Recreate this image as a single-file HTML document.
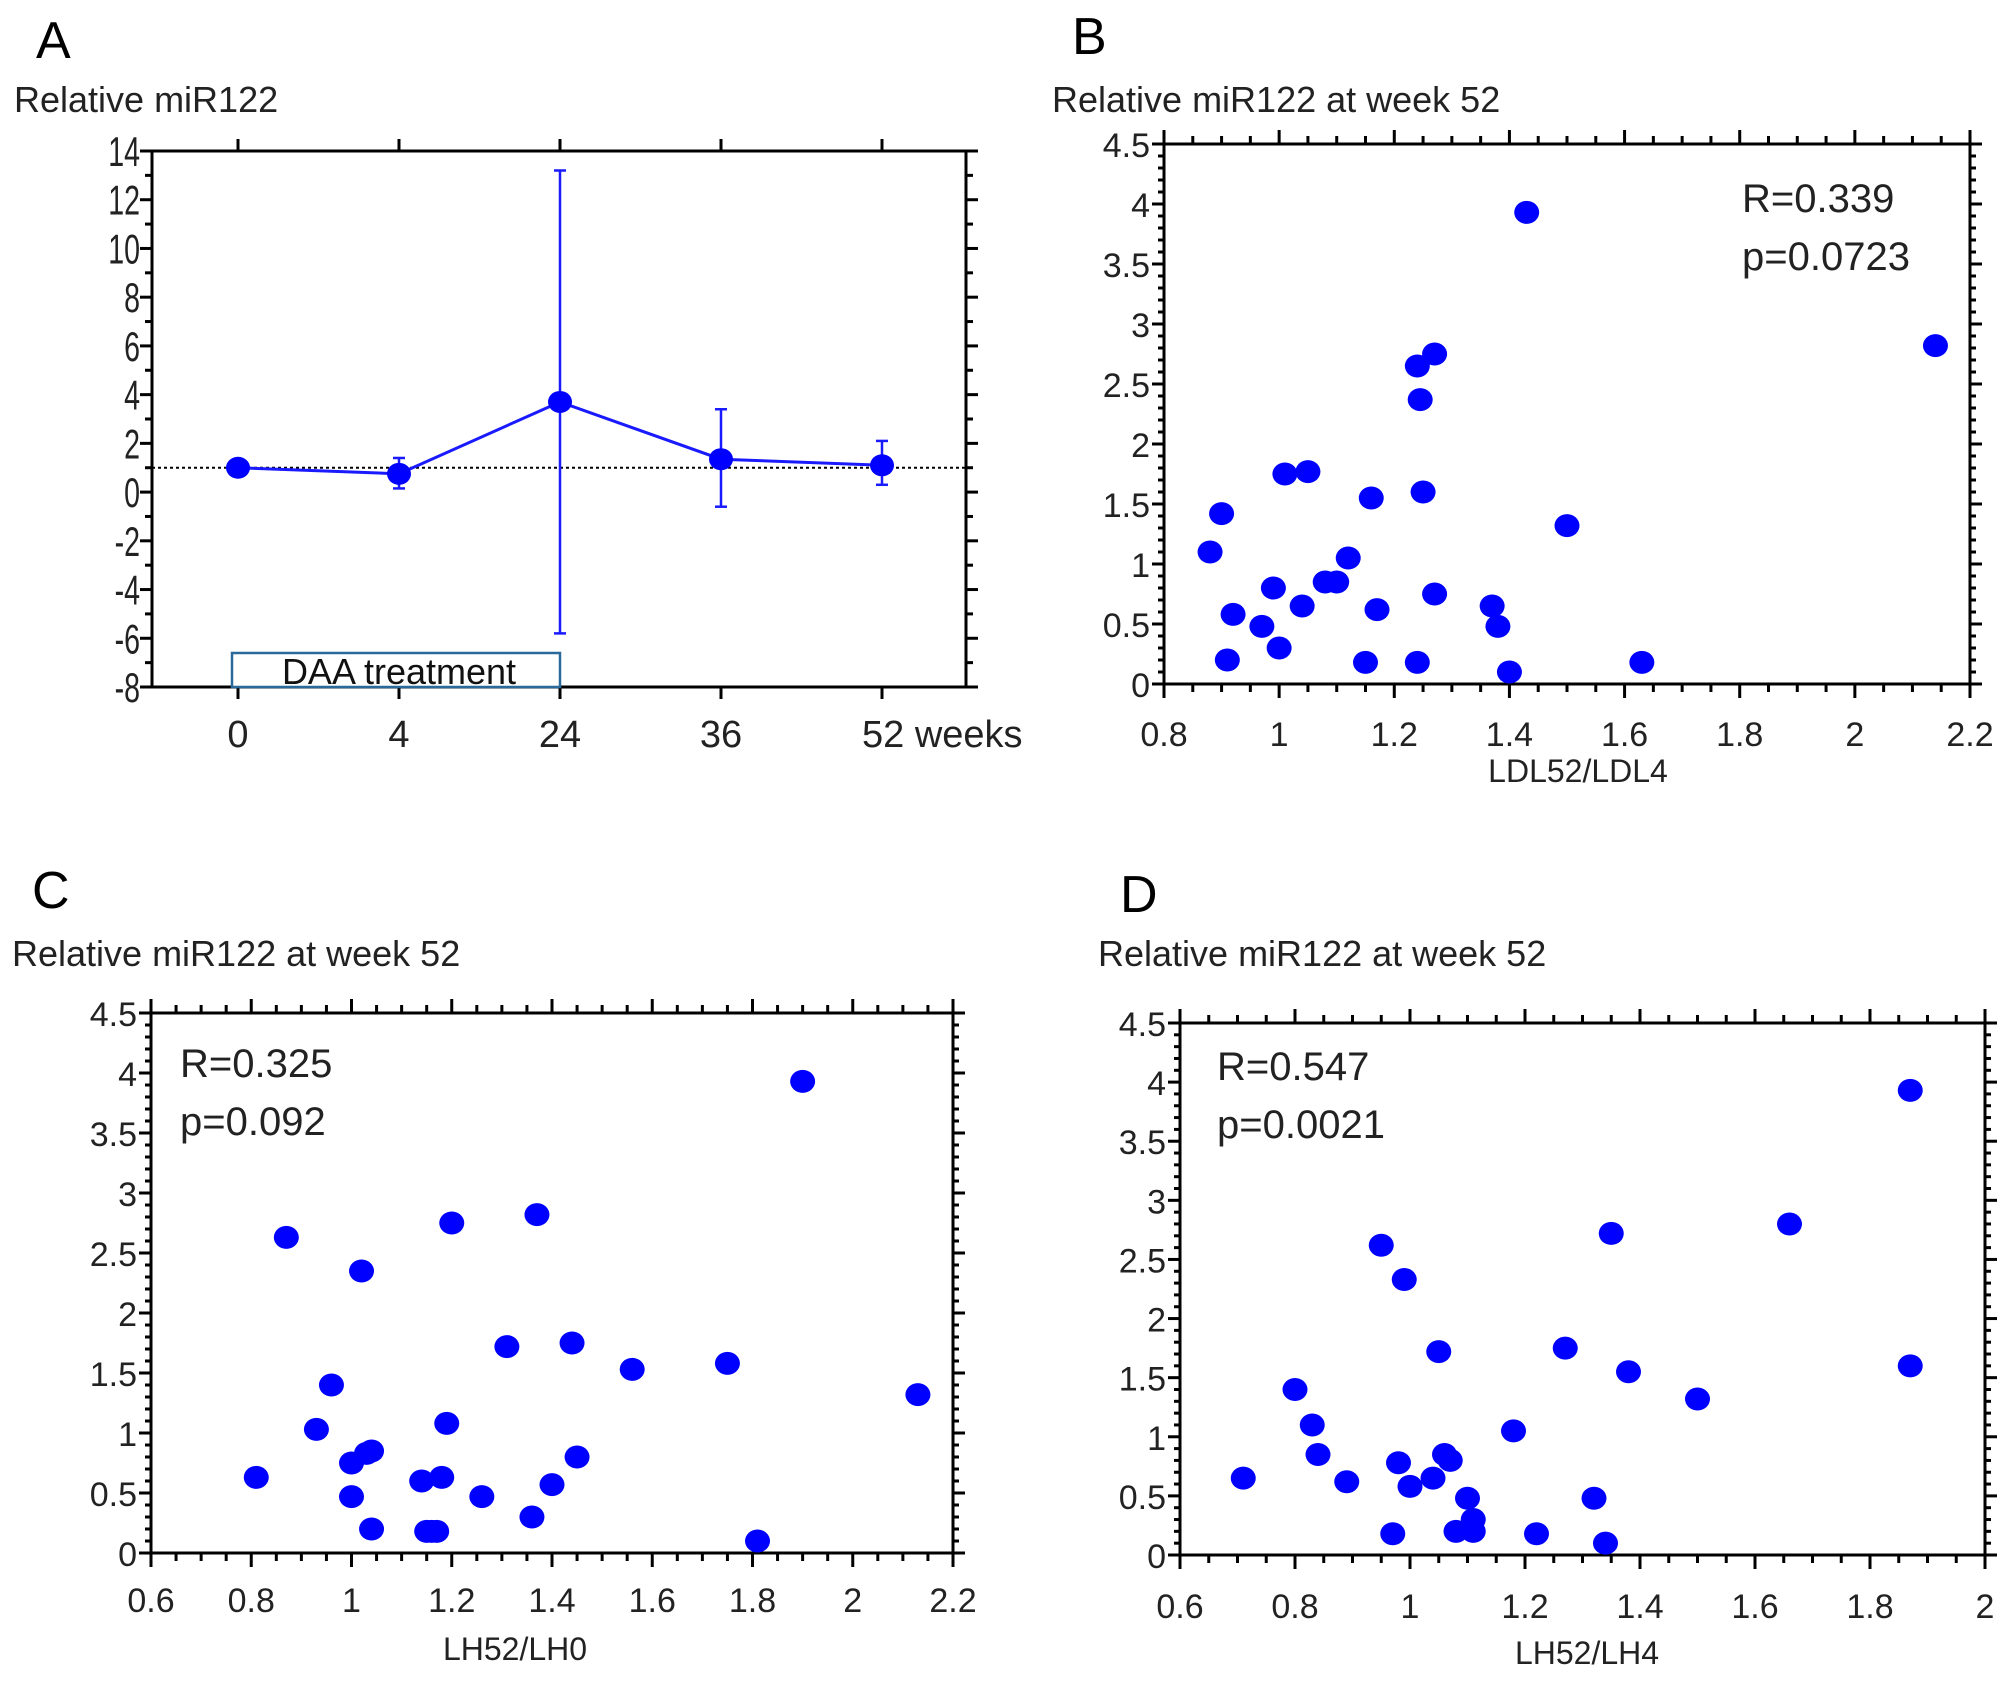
<!DOCTYPE html>
<html><head><meta charset="utf-8">
<style>
html,body{margin:0;padding:0;background:#fff;}
svg{display:block;font-family:"Liberation Sans",sans-serif;}
</style></head>
<body>
<svg id="fig" width="2008" height="1681" viewBox="0 0 2008 1681" xmlns="http://www.w3.org/2000/svg">
<rect width="2008" height="1681" fill="#fff"/>
<g>
<text x="36" y="58" font-size="52">A</text>
<text x="14" y="112" font-size="36" fill="#222">Relative miR122</text>
</g>
<g>
<text x="1072" y="54" font-size="52">B</text>
<text x="1052" y="112" font-size="36" fill="#222">Relative miR122 at week 52</text>
</g>
<g>
<text x="32" y="908" font-size="52">C</text>
<text x="12" y="966" font-size="36" fill="#222">Relative miR122 at week 52</text>
</g>
<g>
<text x="1120" y="912" font-size="52">D</text>
<text x="1098" y="966" font-size="36" fill="#222">Relative miR122 at week 52</text>
</g>
</svg>
<script>
// Panel A data
const aCategories = ["0","4","24","36","52 weeks"];
const aMeans = [1.0, 0.75, 3.7, 1.35, 1.1];
const aLower = [1.0, 0.15, -5.8, -0.6, 0.3];
const aUpper = [1.0, 1.4, 13.2, 3.4, 2.1];
const aYTicks = [14,12,10,8,6,4,2,0,-2,-4,-6,-8];
// Panel B data
const bX = [0.88,0.9,0.91,0.92,0.97,0.99,1.0,1.01,1.04,1.05,1.08,1.1,1.12,1.15,1.16,1.17,1.24,1.24,1.245,1.25,1.27,1.27,1.37,1.38,1.4,1.43,1.5,1.63,2.14];
const bY = [1.1,1.42,0.2,0.58,0.48,0.8,0.3,1.75,0.65,1.77,0.85,0.85,1.05,0.18,1.55,0.62,2.65,0.18,2.37,1.6,2.75,0.75,0.65,0.48,0.1,3.93,1.32,0.18,2.82];
const bXTicks = ["0.8","1","1.2","1.4","1.6","1.8","2","2.2"];
// Panel C data
const cX = [0.81,0.87,0.93,0.96,1.0,1.0,1.02,1.03,1.04,1.04,1.14,1.15,1.16,1.17,1.18,1.19,1.2,1.26,1.31,1.36,1.37,1.4,1.44,1.45,1.56,1.75,1.81,1.9,2.13];
const cY = [0.63,2.63,1.03,1.4,0.75,0.47,2.35,0.83,0.85,0.2,0.6,0.18,0.18,0.18,0.63,1.08,2.75,0.47,1.72,0.3,2.82,0.57,1.75,0.8,1.53,1.58,0.1,3.93,1.32];
const cXTicks = ["0.6","0.8","1","1.2","1.4","1.6","1.8","2","2.2"];
// Panel D data
const dX = [0.71,0.8,0.83,0.84,0.89,0.95,0.97,0.98,0.99,1.0,1.04,1.05,1.06,1.07,1.08,1.1,1.11,1.11,1.22,1.18,1.27,1.32,1.34,1.35,1.38,1.5,1.66,1.87,1.87];
const dY = [0.65,1.4,1.1,0.85,0.62,2.62,0.18,0.78,2.33,0.58,0.65,1.72,0.85,0.8,0.2,0.48,0.3,0.2,0.18,1.05,1.75,0.48,0.1,2.72,1.55,1.32,2.8,3.93,1.6];
const dXTicks = ["0.6","0.8","1","1.2","1.4","1.6","1.8","2"];
const scYTicks = ["0","0.5","1","1.5","2","2.5","3","3.5","4","4.5"];

const NS = "http://www.w3.org/2000/svg";
const svg = document.getElementById('fig');
function mk(tag, attrs, parent){
  const e = document.createElementNS(NS, tag);
  for (const k in attrs) e.setAttribute(k, attrs[k]);
  (parent||svg).appendChild(e);
  return e;
}
function ln(g,x1,y1,x2,y2,w,c,dash){
  const e = mk('line',{x1:x1,y1:y1,x2:x2,y2:y2,stroke:c||'#000','stroke-width':w||3},g);
  if(dash) e.setAttribute('stroke-dasharray',dash);
  return e;
}

// ---------- Panel A ----------
(function(){
  const L=152,R=966,T=151,B=687, yMin=-8,yMax=14;
  const xPos=[238,397,559,722,882];
  const ys = v => B - (v-yMin)/(yMax-yMin)*(B-T);
  const xs = i => xPos[0] + (xPos[4]-xPos[0]) * [0,1,2,3,4][i]/4;
  const g = mk('g',{});
  
  
  const box = mk('rect',{x:L,y:T,width:R-L,height:B-T,fill:'none',stroke:'#000','stroke-width':3},g);
  
  
  for(let v=yMin; v<=yMax; v+=1){
    const maj = (v%2===0);
    const len = maj?12:7;
    ln(g,L-len,ys(v),L,ys(v),3);
    ln(g,R,ys(v),R+len,ys(v),3);
  }
  const ax = L-12;
  aYTicks.forEach(v=>{
    const t = mk('text',{x:ax,y:ys(v)+15,'font-size':42,'text-anchor':'end',fill:'#222',transform:`translate(${ax},0) scale(0.68,1) translate(${-ax},0)`},g);
    t.textContent = v;
    
    
  });
  aCategories.forEach((c,i)=>{
    ln(g,xs(i),B,xs(i),B+12,3);
    ln(g,xs(i),T-12,xs(i),T,3);
    const t = mk('text',{x:i===4?xs(i)-20:xs(i),y:747,'font-size':38,'text-anchor':i===4?'start':'middle',fill:'#222'},g);
    t.textContent = c;
    
    
  });
  const ref = ln(g,L,ys(1),R,ys(1),2,'#000','3,3');
  
  
  const daa = mk('rect',{x:xs(0)-6,y:653,width:xs(2)-xs(0)+6,height:B-653,fill:'#fff',stroke:'#2a6a9a','stroke-width':2.5},g);
  
  
  const dt = mk('text',{x:(xs(0)+xs(2))/2,y:684,'font-size':36,'text-anchor':'middle',fill:'#111'},g);
  dt.textContent='DAA treatment';
  
  
  aMeans.forEach((m,i)=>{
    const x = xs(i);
    const eb = ln(g,x,ys(aLower[i]),x,ys(aUpper[i]),2.5,'#1a1aff');
    
    
    if(aUpper[i]!==aLower[i]){
      ln(g,x-6,ys(aLower[i]),x+6,ys(aLower[i]),2.5,'#1a1aff');
      ln(g,x-6,ys(aUpper[i]),x+6,ys(aUpper[i]),2.5,'#1a1aff');
    }
  });
  const pts = aMeans.map((m,i)=>xs(i)+','+ys(m)).join(' ');
  const pl = mk('polyline',{points:pts,fill:'none',stroke:'#1a1aff','stroke-width':3},g);
  
  
  aMeans.forEach((m,i)=>{
    const c = mk('ellipse',{cx:xs(i),cy:ys(m),rx:12,ry:11,fill:'#0000ff'},g);
    
    
  });
})();

// ---------- Scatter panels ----------
function scatter(id,L,R,T,B,xMin,xMax,xTicks,xs,ysArr,xlab,xlabX,xlabY,tickY,stats,statX,statY){
  const g = mk('g',{});
  
  
  const sx = v => L + (v-xMin)/(xMax-xMin)*(R-L);
  const sy = v => B - v/4.5*(B-T);
  const box = mk('rect',{x:L,y:T,width:R-L,height:B-T,fill:'none',stroke:'#000','stroke-width':3},g);
  
  
  const nx = Math.round((xMax-xMin)/0.05);
  for(let i=0;i<=nx;i++){
    const v = xMin + i*0.05;
    const maj = (i%4===0);
    const len = maj?14:8;
    ln(g,sx(v),B,sx(v),B+len,3);
    ln(g,sx(v),T-len,sx(v),T,3);
  }
  for(let i=0;i<=45;i++){
    const v=i*0.1; const maj=(i%5===0); const len=maj?12:6;
    ln(g,L-len,sy(v),L,sy(v),3);
    ln(g,R,sy(v),R+len,sy(v),3);
  }
  scYTicks.forEach(s=>{
    const t = mk('text',{x:L-14,y:sy(parseFloat(s))+13,'font-size':34,'text-anchor':'end',fill:'#222'},g);
    t.textContent=s;
    
    
  });
  xTicks.forEach(s=>{
    const t = mk('text',{x:sx(parseFloat(s)),y:tickY,'font-size':34,'text-anchor':'middle',fill:'#222'},g);
    t.textContent=s;
    
    
  });
  const xl = mk('text',{x:xlabX,y:xlabY,'font-size':32,'text-anchor':'middle',fill:'#222'},g);
  xl.textContent=xlab;
  
  
  stats.forEach((s,i)=>{
    const t = mk('text',{x:statX,y:statY+i*58,'font-size':40,fill:'#222'},g);
    t.textContent=s;
    
    
  });
  xs.forEach((v,i)=>{
    const c = mk('ellipse',{cx:sx(v),cy:sy(ysArr[i]),rx:12.5,ry:11.5,fill:'#0000ff'},g);
    
    
  });
}
scatter('panel-b',1164,1970,144,684,0.8,2.2,bXTicks,bX,bY,'LDL52/LDL4',1578,782,746,['R=0.339','p=0.0723'],1742,212);
scatter('panel-c',151,953,1013,1553,0.6,2.2,cXTicks,cX,cY,'LH52/LH0',515,1660,1612,['R=0.325','p=0.092'],180,1077);
scatter('panel-d',1180,1985,1023,1555,0.6,2.0,dXTicks,dX,dY,'LH52/LH4',1587,1664,1618,['R=0.547','p=0.0021'],1217,1080);
</script>
</body></html>
